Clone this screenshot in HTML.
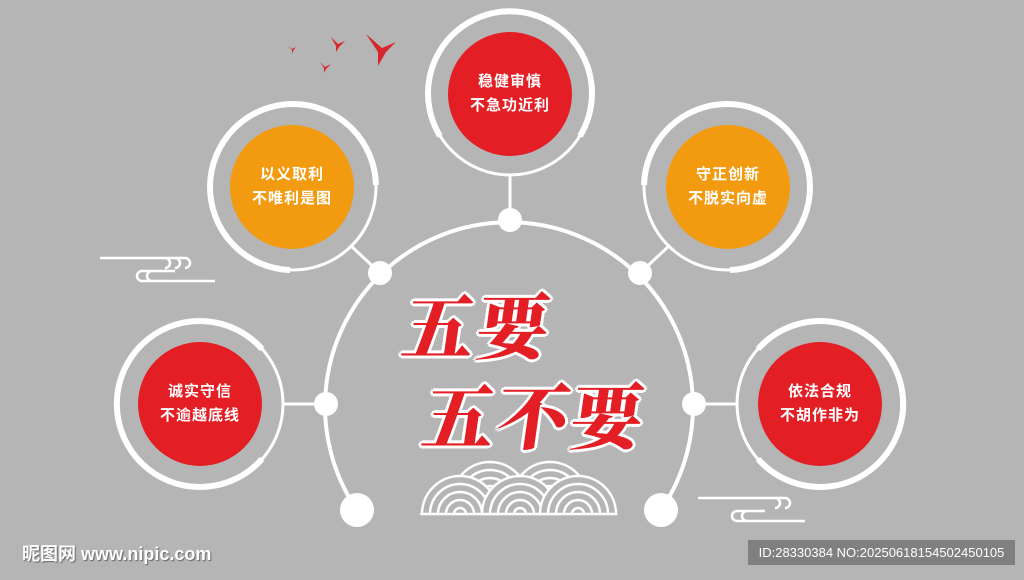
<!DOCTYPE html>
<html><head><meta charset="utf-8"><style>
body{margin:0;width:1024px;height:580px;background:#b5b5b5;overflow:hidden;position:relative;font-family:"Liberation Sans","Noto Sans CJK SC",sans-serif}
.t{position:absolute;color:#fff;font-weight:bold;font-size:15px;line-height:24px;text-align:center;width:140px;letter-spacing:1px}
.big{position:absolute;font-family:"Noto Serif CJK SC","Noto Sans CJK SC",serif;font-weight:900;color:#e31e24;font-size:72px;line-height:80px;text-shadow:0 0 2px #fff,2px 2px 0 #fff,-2px -2px 0 #fff,2px -2px 0 #fff,-2px 2px 0 #fff,0 3px 0 #fff,0 -3px 0 #fff,3px 0 0 #fff,-3px 0 0 #fff;transform:skewX(-8deg);letter-spacing:2px}
</style></head><body>
<svg width="1024" height="580" style="position:absolute;left:0;top:0">
<defs>
<g id="w1"><path d="M-38 0 A38 38 0 0 1 38 0Z"/><path d="M-30 0 A30 30 0 0 1 30 0 M-22 0 A22 22 0 0 1 22 0 M-14 0 A14 14 0 0 1 14 0 M-6 0 A6 6 0 0 1 6 0" fill="none"/></g>
</defs>
<g fill="none" stroke="#fff">
<path d="M357 510 A184 184 0 1 1 661 510" stroke-width="4"/>
<line x1="510" y1="176" x2="510" y2="220" stroke-width="3"/>
<line x1="350" y1="245" x2="380" y2="273" stroke-width="3"/>
<line x1="670" y1="245" x2="640" y2="273" stroke-width="3"/>
<line x1="283" y1="404" x2="326" y2="404" stroke-width="3"/>
<line x1="737" y1="404" x2="694" y2="404" stroke-width="3"/>
<circle cx="510" cy="93" r="82" stroke-width="3"/>
<path d="M440 136 A82 82 0 1 1 580 136" stroke-width="6"/>
<circle cx="293" cy="187" r="83" stroke-width="3"/>
<path d="M290 270 A83 83 0 1 1 376 185" stroke-width="6"/>
<circle cx="727" cy="187" r="83" stroke-width="3"/>
<path d="M730 270 A83 83 0 1 0 644 185" stroke-width="6"/>
<circle cx="200" cy="404" r="83" stroke-width="3"/>
<path d="M262 349 A83 83 0 1 0 262 459" stroke-width="6"/>
<circle cx="820" cy="404" r="83" stroke-width="3"/>
<path d="M758 349 A83 83 0 1 1 758 459" stroke-width="6"/>
<g stroke-width="2.5">
<path d="M100 258 H185 a5 5 0 0 1 0 10 M175 258 a5 5 0 0 1 0 10 M165 258 a5 5 0 0 1 0 10"/>
<path d="M215 281 H142 a5 5 0 0 1 0 -10 H175 M152 281 a5 5 0 0 1 0 -10"/>
<path d="M698 498 H785 a5 5 0 0 1 0 10 M775 498 a5 5 0 0 1 0 10"/>
<path d="M805 521 H737 a5 5 0 0 1 0 -10 H765 M747 521 a5 5 0 0 1 0 -10"/>
</g>
</g>
<g fill="#fff">
<circle cx="510" cy="220" r="12"/><circle cx="380" cy="273" r="12"/><circle cx="640" cy="273" r="12"/>
<circle cx="326" cy="404" r="12"/><circle cx="694" cy="404" r="12"/>
<circle cx="357" cy="510" r="17"/><circle cx="661" cy="510" r="17"/>
</g>
<circle cx="510" cy="94" r="62" fill="#e31e24"/>
<circle cx="292" cy="187" r="62" fill="#f29b11"/>
<circle cx="728" cy="187" r="62" fill="#f29b11"/>
<circle cx="200" cy="404" r="62" fill="#e31e24"/>
<circle cx="820" cy="404" r="62" fill="#e31e24"/>
<g fill="#b5b5b5" stroke="#fff" stroke-width="2.5">
<use href="#w1" x="490" y="500"/>
<use href="#w1" x="550" y="500"/>
<use href="#w1" x="460" y="514"/>
<use href="#w1" x="520" y="514"/>
<use href="#w1" x="578" y="514"/>
</g>
<line x1="420" y1="514" x2="612" y2="514" stroke="#fff" stroke-width="2"/>
<g fill="#d8262c">
<path d="M366 34 L382 48 L396 42 L386 52 L378 66 L378 52 Z"/>
<path d="M331 37 L338 44 L345 41 L339 47 L336 52 L336 46Z"/>
<path d="M320 62 L325 67 L331 64 L326 69 L324 73 L324 68Z"/>
<path d="M288 46 L292 49 L296 47 L293 51 L292 54 L292 50Z"/>
</g>
<rect x="748" y="540" width="267" height="25" fill="#808080"/>
</svg>
<div class="t" style="left:440px;top:70px">稳健审慎<br>不急功近利</div>
<div class="t" style="left:222px;top:163px">以义取利<br>不唯利是图</div>
<div class="t" style="left:658px;top:163px">守正创新<br>不脱实向虚</div>
<div class="t" style="left:130px;top:380px">诚实守信<br>不逾越底线</div>
<div class="t" style="left:750px;top:380px">依法合规<br>不胡作非为</div>
<div class="big" style="left:404px;top:282px">五要</div>
<div class="big" style="left:424px;top:372px">五不要</div>
<div style="position:absolute;left:22px;top:540px;color:#fff;font-size:18px;font-weight:bold;text-shadow:1px 1px 1px #666">昵图网 www.nipic.com</div>
<div style="position:absolute;left:748px;top:540px;width:267px;line-height:25px;text-align:center;color:#fff;font-size:13px">ID:28330384 NO:20250618154502450105</div>
</body></html>
